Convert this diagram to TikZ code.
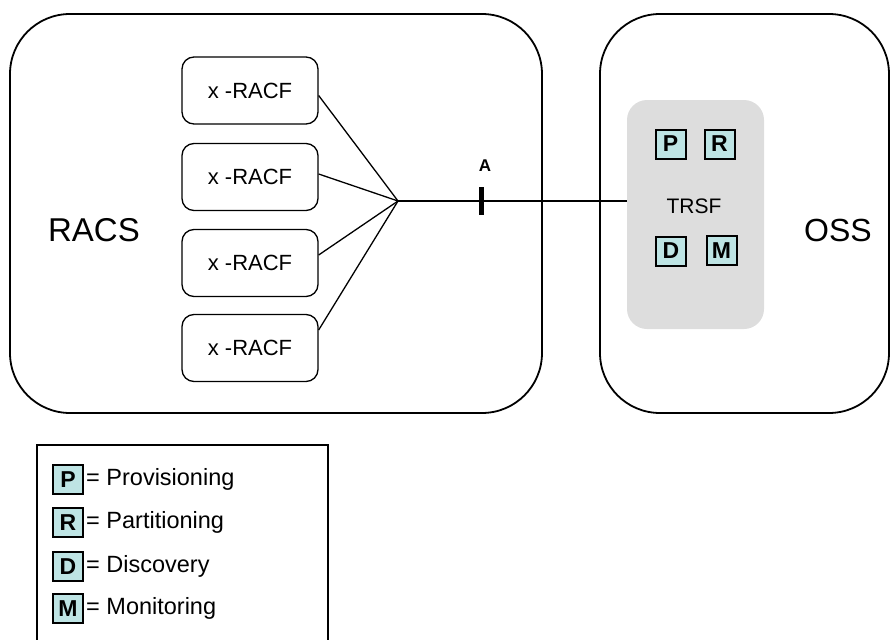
\documentclass[tikz,border=0pt]{standalone}
\usepackage{fontspec}
\setmainfont{Liberation Sans}
\definecolor{lettercyan}{RGB}{190,228,228}
\definecolor{trsfgray}{RGB}{221,221,221}
\begin{document}
\begin{tikzpicture}[x=1pt,y=-1pt,
  bigbox/.style={draw, line width=1.8pt, rounded corners=60pt, inner sep=0pt},
  racf/.style={draw, line width=1.3pt, rounded corners=12pt, minimum width=136pt, minimum height=67pt, inner sep=0pt, font=\fontsize{22}{26}\selectfont},
  letterbox/.style={draw, line width=2pt, fill=lettercyan, minimum width=30pt, minimum height=29pt, inner sep=0pt, font=\bfseries\fontsize{23}{27}\selectfont},
  conn/.style={line width=1.3pt},
  legtext/.style={anchor=west, inner sep=0pt, xshift=2pt, font=\fontsize{23.5}{28}\selectfont},
  bigtext/.style={font=\fontsize{32}{38}\selectfont}
]
\useasboundingbox (0,0) rectangle (892,640);
% containers
\node[bigbox, minimum width=532pt, minimum height=399pt] (racs) at (276,213.5) {};
\node[bigbox, minimum width=289pt, minimum height=399pt] (oss) at (744.5,213.5) {};
\node[bigtext, font=\fontsize{33}{39}\selectfont] (racslabel) at (94,230) {RACS};
\node[bigtext] (osslabel) at (838,230) {OSS};
% TRSF
\node[fill=trsfgray, rounded corners=20pt, minimum width=137pt, minimum height=229pt, inner sep=0pt] (trsf) at (695.5,214.5) {};
\node[font=\fontsize{21}{25}\selectfont] (trsflabel) at (694,206) {TRSF};
\node[letterbox] (tp) at (670.5,144) {P};
\node[letterbox] (tr) at (719.5,144) {R};
\node[letterbox] (td) at (671,251) {D};
\node[letterbox] (tm) at (721.5,250.5) {M};
% x-RACF boxes
\node[racf] (b1) at (250,90.5) {x -RACF};
\node[racf] (b2) at (250,177) {x -RACF};
\node[racf] (b3) at (250,263) {x -RACF};
\node[racf] (b4) at (250,348) {x -RACF};
\coordinate (hub) at (398,201);
\draw[conn] ([yshift=-5pt]b1.east) -- (hub);
\draw[conn] ([yshift=3pt]b2.east) -- (hub);
\draw[conn] ([yshift=8pt]b3.east) -- (hub);
\draw[conn] ([yshift=18pt]b4.east) -- (hub);
\draw[conn] (hub) -- (hub -| trsf.west);
% reference point A
\node[fill=black, minimum width=5pt, minimum height=28pt, inner sep=0pt] (tick) at (481.5,201) {};
\node[font=\bfseries\fontsize{17}{20}\selectfont] (alabel) at (485,166) {A};
% legend
\draw[line width=1.3pt] (37,445) rectangle (328,660);
\node[letterbox] (lp) at (68,479.5) {P};
\node[letterbox] (lr) at (68,522.5) {R};
\node[letterbox] (ld) at (68,566.5) {D};
\node[letterbox] (lm) at (68,608.5) {M};
\node[legtext] (lpt) at (lp.east) {= Provisioning};
\node[legtext] (lrt) at (lr.east) {= Partitioning};
\node[legtext] (ldt) at (ld.east) {= Discovery};
\node[legtext] (lmt) at (lm.east) {= Monitoring};
\end{tikzpicture}
\end{document}
